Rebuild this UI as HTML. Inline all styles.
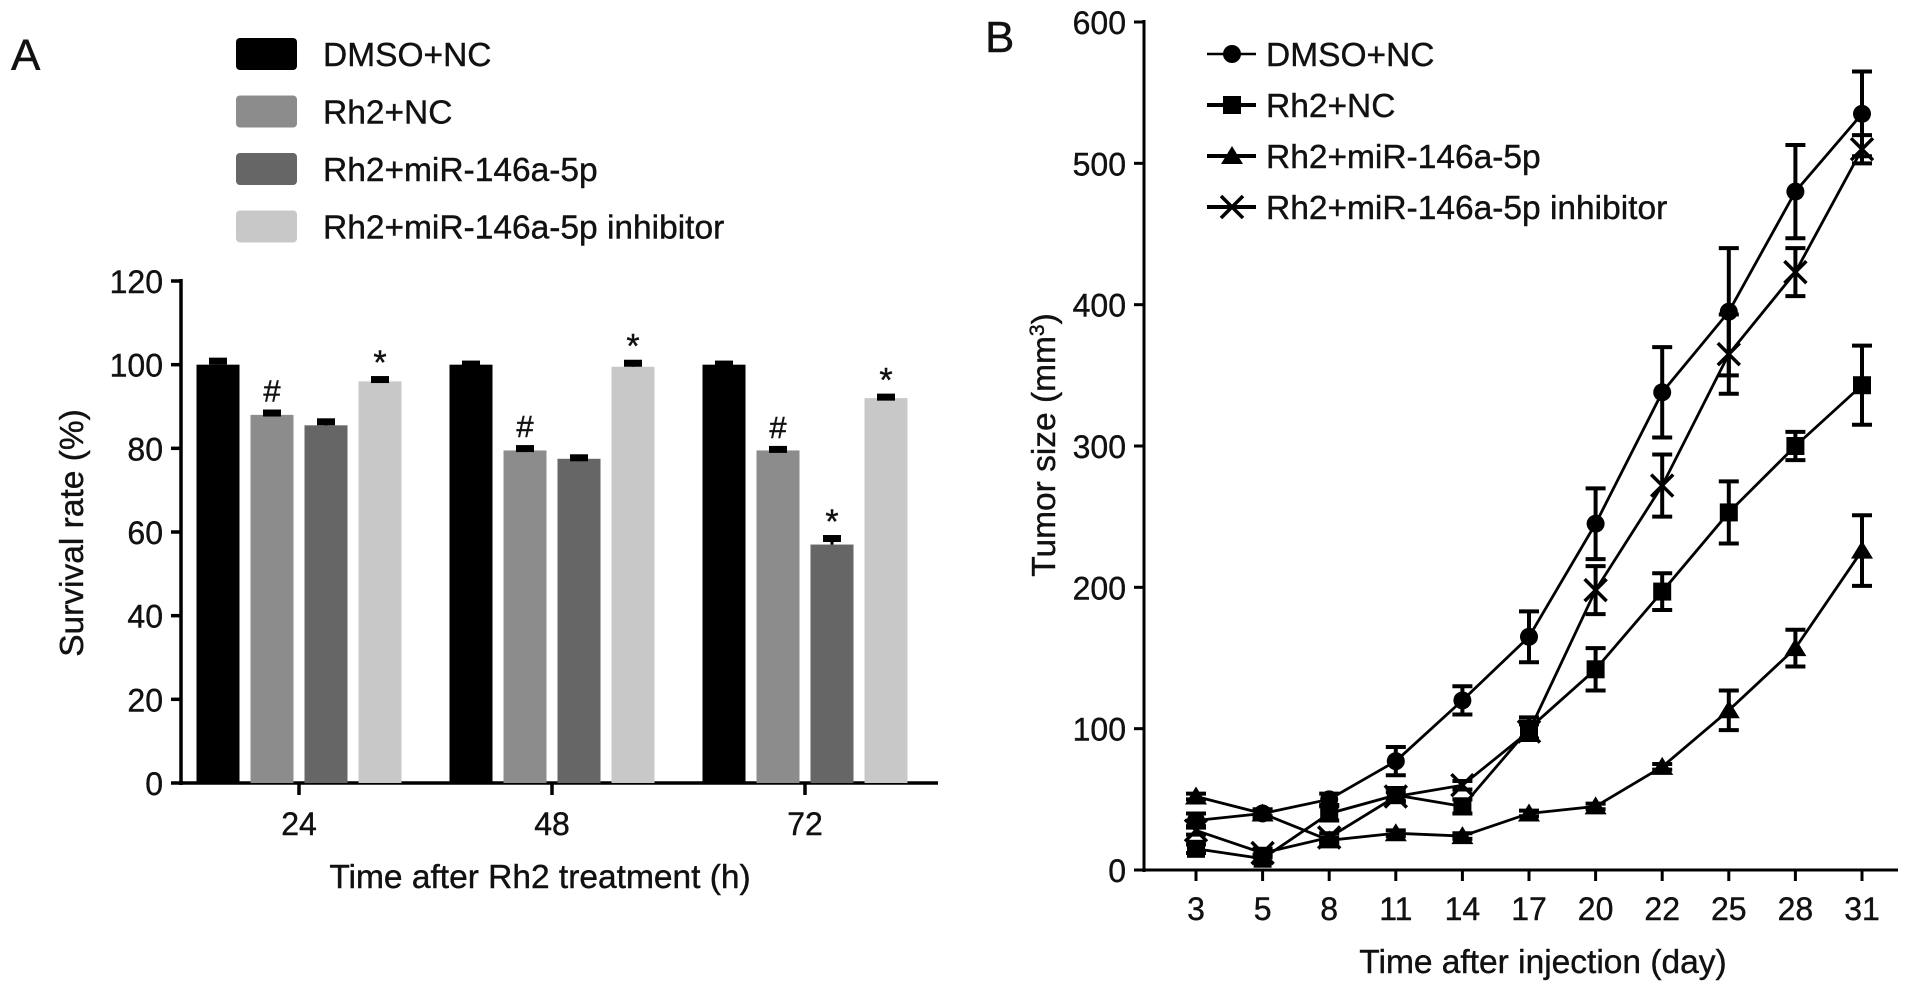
<!DOCTYPE html>
<html><head><meta charset="utf-8"><style>
html,body{margin:0;padding:0;background:#fff;width:1913px;height:992px;overflow:hidden}
svg{display:block;font-family:"Liberation Sans",Arial,sans-serif}
text{stroke:#111;stroke-width:0.4}
</style></head><body>
<svg id="fig" width="1913" height="992" viewBox="0 0 1913 992"></svg>
<script>
// Panel A data
const barCategories = ["24", "48", "72"];
const barSeriesNames = ["DMSO+NC", "Rh2+NC", "Rh2+miR-146a-5p", "Rh2+miR-146a-5p inhibitor"];
const barDMSO = [100, 100, 100];
const barRh2NC = [88, 79.5, 79.5];
const barRh2Mir = [85.5, 77.5, 57];
const barRh2Inh = [96, 99.5, 92];
const barErrDMSO = [1.2, 0.5, 0.5];
const barErrRh2NC = [0.8, 0.8, 0.6];
const barErrRh2Mir = [1.2, 0.6, 1.8];
const barErrRh2Inh = [0.8, 1.2, 0.6];
const barMarks = [["", "#", "", "*"], ["", "#", "", "*"], ["", "#", "*", "*"]];
const barTicks = [0, 20, 40, 60, 80, 100, 120];
// Panel B data
const lineDays = ["3", "5", "8", "11", "14", "17", "20", "22", "25", "28", "31"];
const lineDMSO = [35, 40, 50, 77, 120, 165, 245, 338, 395, 480, 535];
const lineErrDMSO = [5, 3, 4, 10, 10, 18, 25, 32, 45, 33, 30];
const lineRh2NC = [15, 8, 40, 53, 45, 100, 142, 197, 253, 300, 343];
const lineErrRh2NC = [3, 3, 5, 5, 5, 8, 15, 13, 22, 10, 28];
const lineRh2Mir = [52, 40, 21, 26, 24, 40, 45, 73, 113, 157, 226];
const lineErrRh2Mir = [2, 2, 2, 2, 2, 2, 2, 2, 14, 13, 25];
const lineRh2Inh = [28, 12, 23, 52, 60, 98, 198, 272, 365, 423, 510];
const lineErrRh2Inh = [3, 3, 3, 3, 3, 5, 17, 22, 28, 17, 10];
const lineTicks = [0, 100, 200, 300, 400, 500, 600];

const NS = "http://www.w3.org/2000/svg";
const svg = document.getElementById("fig");
function mk(tag, attrs, parent) {
  const e = document.createElementNS(NS, tag);
  for (const k in attrs) e.setAttribute(k, attrs[k]);
  (parent || svg).appendChild(e);
  return e;
}
function txt(x, y, s, size, anchor, parent) {
  const t = mk("text", {x: x, y: y, "font-size": size, "text-anchor": anchor || "start", fill: "#111"}, parent);
  t.textContent = s;
  return t;
}
const TICK = 32, TITLE = 33.5, LEG = 33.5;

// ---------- Panel A ----------
const A = mk("g", {});


const aLbl = txt(11, 70, "A", 44, "start", A);


const aX0 = 181, aX1 = 938, aY0 = 783, aYTop = 281;
const ay = v => aY0 - (v / 120) * (aY0 - aYTop);
const aCenters = [299, 553, 805];
const ax = i => aCenters[0] + i * (aCenters[2] - aCenters[0]) / 2;
const colors = ["#000000", "#8c8c8c", "#666666", "#c8c8c8"];
const barVals = [barDMSO, barRh2NC, barRh2Mir, barRh2Inh];
const barErrs = [barErrDMSO, barErrRh2NC, barErrRh2Mir, barErrRh2Inh];
const bw = 43, bstep = 54;
for (let s = 0; s < 4; s++) {
  const ly = 54 + s * 57.5;
  const g = mk("g", {}, A);
  
  
  mk("rect", {x: 236, y: ly - 16, width: 61, height: 32, rx: 4, fill: colors[s]}, g);
  txt(323, ly + 12, barSeriesNames[s], LEG, "start", g);
}
const aAxes = mk("g", {stroke: "#000", "stroke-width": 3.5, fill: "none"}, A);


mk("line", {x1: aX0, y1: aYTop - 2, x2: aX0, y2: aY0 + 2}, aAxes);
mk("line", {x1: aX0 - 2, y1: aY0, x2: aX1, y2: aY0}, aAxes);
barTicks.forEach(t => {
  mk("line", {x1: aX0 - 10, y1: ay(t), x2: aX0, y2: ay(t)}, aAxes);
  const tl = txt(aX0 - 18, ay(t) + 12, String(t), TICK, "end", A);
  
  
});
barCategories.forEach((c, i) => {
  mk("line", {x1: ax(i), y1: aY0, x2: ax(i), y2: aY0 + 12}, aAxes);
  const tl = txt(ax(i), aY0 + 52, c, TICK, "middle", A);
  
  
});
const aYT = txt(0, 0, "Survival rate (%)", TITLE, "middle", A);
aYT.setAttribute("transform", "translate(83,533) rotate(-90)");


const aXT = txt(540, 888, "Time after Rh2 treatment (h)", TITLE, "middle", A);


barCategories.forEach((c, i) => {
  for (let s = 0; s < 4; s++) {
    const cx = ax(i) + (s - 1.5) * bstep;
    const v = barVals[s][i], e = barErrs[s][i];
    const r = mk("rect", {x: cx - bw / 2, y: ay(v), width: bw, height: aY0 - ay(v), fill: colors[s]}, A);
    
    
    mk("line", {x1: cx, y1: ay(v + e), x2: cx, y2: ay(v), stroke: "#000", "stroke-width": 3}, A);
    mk("rect", {x: cx - 9, y: ay(v + e) - 2, width: 18, height: 7, fill: "#000"}, A);
    const m = barMarks[i][s];
    if (m) {
      const mt = txt(cx, ay(v + e) - (m === "*" ? 4 : 10), m, m === "*" ? 34 : 31, "middle", A);
      
      
    }
  }
});

// ---------- Panel B ----------
const B = mk("g", {});


const bLbl = txt(985, 52, "B", 44, "start", B);


const bX0 = 1144, bX1 = 1898, bY0 = 870, bYTop = 22;
const by = v => bY0 - (v / 600) * (bY0 - bYTop);
const bx = i => 1196 + i * 66.6;
const bAxes = mk("g", {stroke: "#000", "stroke-width": 3, fill: "none"}, B);


mk("line", {x1: bX0, y1: bYTop - 2, x2: bX0, y2: bY0 + 2}, bAxes);
mk("line", {x1: bX0 - 2, y1: bY0, x2: bX1, y2: bY0}, bAxes);
lineTicks.forEach(t => {
  mk("line", {x1: bX0 - 10, y1: by(t), x2: bX0, y2: by(t)}, bAxes);
  const tl = txt(bX0 - 18, by(t) + 12, String(t), TICK, "end", B);
  
  
});
lineDays.forEach((d, i) => {
  mk("line", {x1: bx(i), y1: bY0, x2: bx(i), y2: bY0 + 11}, bAxes);
  const tl = txt(bx(i), bY0 + 50, d, TICK, "middle", B);
  
  
});
const bYT = mk("text", {"font-size": TITLE, "text-anchor": "middle", fill: "#111", transform: "translate(1055,445) rotate(-90)"}, B);
bYT.innerHTML = 'Tumor size (mm<tspan baseline-shift="super" font-size="21">3</tspan>)';


const bXT = txt(1543, 973, "Time after injection (day)", TITLE, "middle", B);



function marker(kind, x, y, parent) {
  if (kind === 0) mk("circle", {cx: x, cy: y, r: 9, fill: "#000"}, parent);
  else if (kind === 1) mk("rect", {x: x - 9, y: y - 9, width: 18, height: 18, fill: "#000"}, parent);
  else if (kind === 2) mk("polygon", {points: `${x},${y - 10} ${x + 11},${y + 8} ${x - 11},${y + 8}`, fill: "#000"}, parent);
  else {
    mk("line", {x1: x - 11, y1: y - 11, x2: x + 11, y2: y + 11, stroke: "#000", "stroke-width": 3.5}, parent);
    mk("line", {x1: x - 11, y1: y + 11, x2: x + 11, y2: y - 11, stroke: "#000", "stroke-width": 3.5}, parent);
  }
}
const lineVals = [lineDMSO, lineRh2NC, lineRh2Mir, lineRh2Inh];
const lineErrs = [lineErrDMSO, lineErrRh2NC, lineErrRh2Mir, lineErrRh2Inh];
for (let s = 0; s < 4; s++) {
  const g = mk("g", {}, B);
  
  
  const pts = lineVals[s].map((v, i) => bx(i) + "," + by(v)).join(" ");
  mk("polyline", {points: pts, fill: "none", stroke: "#000", "stroke-width": 2.8}, g);
  lineVals[s].forEach((v, i) => {
    const e = lineErrs[s][i], x = bx(i);
    mk("line", {x1: x, y1: by(v + e), x2: x, y2: by(v - e), stroke: "#000", "stroke-width": 4}, g);
    mk("line", {x1: x - 10, y1: by(v + e), x2: x + 10, y2: by(v + e), stroke: "#000", "stroke-width": 4}, g);
    mk("line", {x1: x - 10, y1: by(v - e), x2: x + 10, y2: by(v - e), stroke: "#000", "stroke-width": 4}, g);
    marker(s, x, by(v), g);
  });
}
for (let s = 0; s < 4; s++) {
  const ly = 54 + s * 51;
  const g = mk("g", {}, B);
  
  
  mk("line", {x1: 1207, y1: ly, x2: 1256, y2: ly, stroke: "#000", "stroke-width": s === 0 ? 2.5 : 4}, g);
  marker(s, 1232, ly, g);
  txt(1266, ly + 12, barSeriesNames[s], LEG, "start", g);
}
</script>
</body></html>
